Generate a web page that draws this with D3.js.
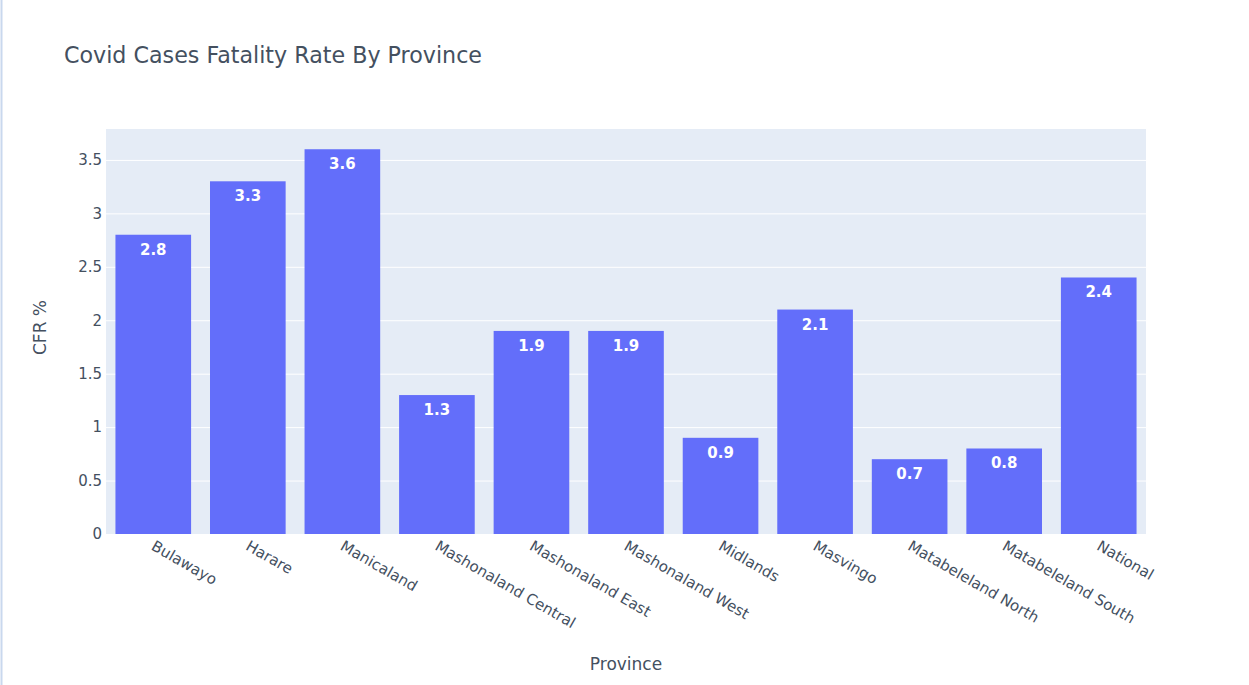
<!DOCTYPE html>
<html><head><meta charset="utf-8">
<script src="https://cdn.jsdelivr.net/npm/d3@7"></script>
<style>body{margin:0;background:#fff;overflow:hidden}svg{display:block}</style>
</head><body>
<svg id="c" width="1249" height="685"></svg>
<script>
const provinces = ["Bulawayo","Harare","Manicaland","Mashonaland Central","Mashonaland East","Mashonaland West","Midlands","Masvingo","Matabeleland North","Matabeleland South","National"];
const cfr = [2.8,3.3,3.6,1.3,1.9,1.9,0.9,2.1,0.7,0.8,2.4];
const yTicks = [0,0.5,1,1.5,2,2.5,3,3.5];
const title = "Covid Cases Fatality Rate By Province";
const xTitle = "Province";
const yTitle = "CFR %";

const font = "'DejaVu Sans', Verdana, sans-serif";
const textColor = "#44505f";
const svg = d3.select("#c");
const m = {l:106, t:129, r:1146, b:534};

svg.append("line").attr("x1",1.5).attr("x2",1.5).attr("y1",0).attr("y2",685)
  .attr("stroke","#c9d8ee").attr("stroke-width",2);

const x = d3.scaleBand().domain(provinces).range([m.l,m.r]).paddingInner(0.2).paddingOuter(0.1);
const y = d3.scaleLinear().domain([0, d3.max(cfr)*1.0526]).range([m.b,m.t]);

svg.append("rect").attr("x",m.l).attr("y",m.t).attr("width",m.r-m.l).attr("height",m.b-m.t).attr("fill","#e5ecf6");

const yAxis = svg.append("g").attr("transform",`translate(${m.l},0)`)
  .call(d3.axisLeft(y).tickValues(yTicks).tickSize(-(m.r-m.l)).tickPadding(4).tickFormat(d3.format("~g")));
yAxis.select(".domain").remove();
yAxis.selectAll(".tick line").attr("stroke","#fff").attr("stroke-width",1);
yAxis.selectAll(".tick").filter(d=>d===0).select("line").remove();
yAxis.selectAll("text").attr("fill",textColor).style("font-family",font).style("font-size","15px");

svg.append("g").selectAll("rect").data(provinces).join("rect")
  .attr("x",d=>x(d)).attr("width",x.bandwidth())
  .attr("y",(d,i)=>y(cfr[i])).attr("height",(d,i)=>y(0)-y(cfr[i]))
  .attr("fill","#636efa");

svg.append("g").selectAll("text").data(provinces).join("text")
  .attr("x",d=>x(d)+x.bandwidth()/2).attr("y",(d,i)=>y(cfr[i])+20)
  .attr("text-anchor","middle").attr("fill","#fff")
  .style("font-family",font).style("font-size","15px").style("font-weight","bold")
  .text((d,i)=>d3.format(".1f")(cfr[i]));

const xAxis = svg.append("g").attr("transform",`translate(0,${m.b})`)
  .call(d3.axisBottom(x).tickSize(0).tickPadding(0));
xAxis.select(".domain").remove();
xAxis.selectAll("text").attr("fill",textColor).style("font-family",font).style("font-size","15px")
  .attr("text-anchor","start").attr("dy",null).attr("y",0)
  .attr("transform","translate(-3,15) rotate(30)");

svg.append("text").attr("x",64).attr("y",63).attr("fill",textColor)
  .style("font-family",font).style("font-size","22.2px").text(title);
svg.append("text").attr("x",(m.l+m.r)/2).attr("y",670).attr("text-anchor","middle").attr("fill",textColor)
  .style("font-family",font).style("font-size","17px").text(xTitle);
svg.append("text").attr("transform",`translate(46,${(m.t+m.b)/2-4}) rotate(-90)`).attr("text-anchor","middle").attr("fill",textColor)
  .style("font-family",font).style("font-size","17px").text(yTitle);
</script>
</body></html>
